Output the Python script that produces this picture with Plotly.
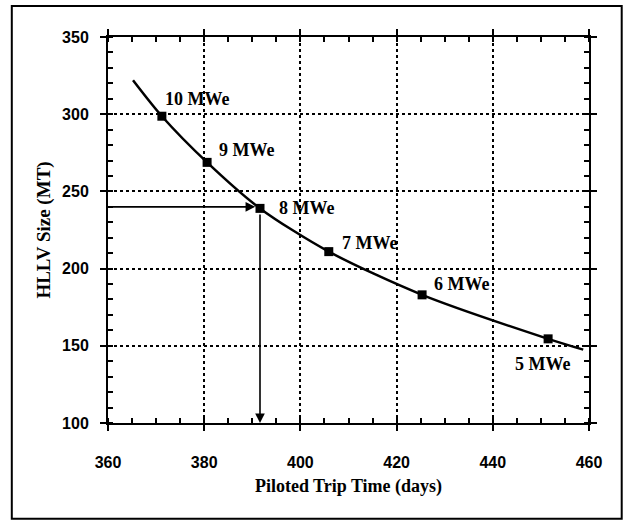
import plotly.graph_objects as go

# Data
power_labels = ["10 MWe", "9 MWe", "8 MWe", "7 MWe", "6 MWe", "5 MWe"]
trip_time = [371.2, 380.6, 391.6, 405.9, 425.3, 451.5]
hllv_size = [298.7, 268.8, 239.0, 211.0, 183.0, 154.5]

curve_x = [365.2, 371.2, 380.6, 391.6, 405.9, 425.3, 451.5, 458.8]
curve_y = [322.0, 298.7, 268.8, 239.0, 211.0, 183.0, 154.5, 147.5]

x_ticks = [360, 380, 400, 420, 440, 460]
y_ticks = [100, 150, 200, 250, 300, 350]

# label offsets (pixels) relative to each marker
label_dx = [1, 10, 17, 11, 10, -35]
label_dy = [17, 12, 0, 9, 11, -25]

serif = "Liberation Serif"
sans = "Liberation Sans"

fig = go.Figure()
fig.add_trace(go.Scatter(x=curve_x, y=curve_y, mode="lines",
                         line=dict(color="black", width=2.5, shape="spline", smoothing=0.8),
                         hoverinfo="skip", showlegend=False))
fig.add_trace(go.Scatter(x=trip_time, y=hllv_size, mode="markers",
                         marker=dict(symbol="square", size=9, color="black"),
                         showlegend=False))

for lab, x, y, dx, dy in zip(power_labels, trip_time, hllv_size, label_dx, label_dy):
    fig.add_annotation(x=x, y=y, text="<b>%s</b>" % lab, showarrow=False,
                       xanchor="left", yanchor="middle", xshift=dx, yshift=dy,
                       font=dict(family=serif, size=18, color="black"))

# arrows to/from the 8 MWe design point
sel = 2
fig.add_annotation(x=trip_time[sel] - 1.0, y=hllv_size[sel] + 1, ax=x_ticks[0], ay=hllv_size[sel] + 1,
                   xref="x", yref="y", axref="x", ayref="y", showarrow=True,
                   arrowhead=2, arrowsize=1.2, arrowwidth=1.6, arrowcolor="black", text="")
fig.add_annotation(x=trip_time[sel], y=y_ticks[0], ax=trip_time[sel], ay=hllv_size[sel] - 3,
                   xref="x", yref="y", axref="x", ayref="y", showarrow=True,
                   arrowhead=2, arrowsize=1.2, arrowwidth=1.6, arrowcolor="black", text="")

axis_common = dict(
    showline=True, linecolor="black", linewidth=2, mirror="ticks",
    ticks="outside", ticklen=6, tickwidth=2, tickcolor="black",
    showgrid=True, gridcolor="black", gridwidth=1.5, griddash="dot",
    zeroline=False, automargin=False,
    tickfont=dict(family=sans, size=16, color="black", weight="bold"),
)

fig.update_xaxes(range=[360, 460], tickvals=x_ticks, ticklabelstandoff=18,
                 minor=dict(dtick=5, ticks="inside", ticklen=5, tickwidth=1.5, tickcolor="black", showgrid=False),
                 title=dict(text="<b>Piloted Trip Time (days)</b>", font=dict(family=serif, size=18, color="black"),
                            standoff=9),
                 **axis_common)
fig.update_yaxes(range=[100, 350], tickvals=y_ticks, ticklabelstandoff=8,
                 minor=dict(dtick=10, ticks="inside", ticklen=5, tickwidth=1.5, tickcolor="black", showgrid=False),
                 title=dict(text="<b>HLLV Size (MT)</b>", font=dict(family=serif, size=19, color="black"),
                            standoff=6),
                 **axis_common)

fig.add_shape(type="rect", xref="paper", yref="paper", x0=-0.2, x1=1.068, y0=-0.248, y1=1.08,
              line=dict(color="black", width=2), layer="below")

fig.update_layout(width=626, height=521, paper_bgcolor="white", plot_bgcolor="white",
                  margin=dict(l=108, r=37, t=37, b=98), showlegend=False)

fig.write_html("out.html", config={"displayModeBar": False},
               post_script="document.body.style.margin='0';document.body.style.overflow='hidden';")
